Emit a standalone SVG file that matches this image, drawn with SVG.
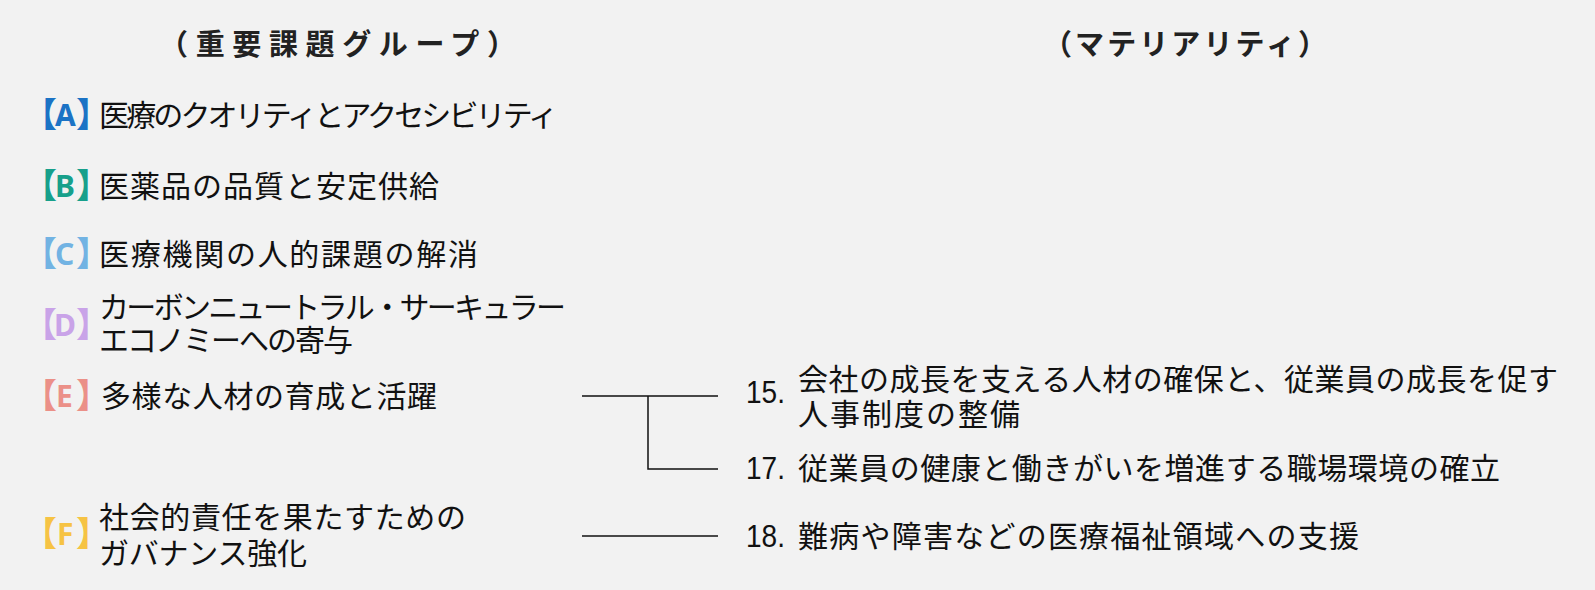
<svg xmlns="http://www.w3.org/2000/svg" width="1595" height="590" viewBox="0 0 1595 590">
<style>
.t{font-family:"Noto Sans CJK JP",sans-serif;font-size:30px;fill:#111}
.h{font-family:"Noto Sans CJK JP",sans-serif;font-size:29px;font-weight:bold;fill:#222}
.n{font-family:"Liberation Sans","Noto Sans CJK JP",sans-serif;font-size:31px;fill:#111}
.br{font-size:34px;font-weight:bold}
.lt{font-family:"Noto Sans","Liberation Sans",sans-serif;font-size:30px;font-weight:bold}
.m{fill:#111;font-size:30px;font-weight:normal}
.ln{stroke:#111;stroke-width:1.5;fill:none}
</style>
<rect width="1595" height="590" fill="#f2f2f2"/>
<g id="title-left"><text class="h" x="159" y="55" textLength="357">（重要課題グループ）</text></g>
<g id="title-right"><text class="h" x="1043" y="55" textLength="284">（マテリアリティ）</text></g>

<g id="A"><text class="t" fill="#1b73c5"><tspan class="br" fill="#1b73c5" x="23" y="127">【</tspan><tspan class="lt" fill="#1b73c5" x="55" y="126">A</tspan><tspan class="br" fill="#1b73c5" x="76" y="127">】</tspan><tspan class="m" x="99" y="126" textLength="459">医療のクオリティとアクセシビリティ</tspan></text></g>
<g id="B"><text class="t"><tspan class="br" fill="#17a08b" x="23" y="198">【</tspan><tspan class="lt" fill="#17a08b" x="55" y="197">B</tspan><tspan class="br" fill="#17a08b" x="76" y="198">】</tspan><tspan class="m" x="99" y="197" textLength="340">医薬品の品質と安定供給</tspan></text></g>
<g id="C"><text class="t"><tspan class="br" fill="#72b3e3" x="23" y="266">【</tspan><tspan class="lt" fill="#72b3e3" x="55" y="265">C</tspan><tspan class="br" fill="#72b3e3" x="76" y="266">】</tspan><tspan class="m" x="99" y="265" textLength="379">医療機関の人的課題の解消</tspan></text></g>
<g id="D"><text class="t"><tspan class="br" fill="#c9a3e8" x="23" y="337">【</tspan><tspan class="lt" fill="#c9a3e8" x="54" y="336">D</tspan><tspan class="br" fill="#c9a3e8" x="76" y="337">】</tspan><tspan class="m" x="99" y="318" textLength="467">カーボンニュートラル・サーキュラー</tspan><tspan class="m" x="99" y="351" textLength="254">エコノミーへの寄与</tspan></text></g>
<g id="E"><text class="t"><tspan class="br" fill="#eb9088" x="23" y="408">【</tspan><tspan class="lt" fill="#eb9088" x="56" y="407">E</tspan><tspan class="br" fill="#eb9088" x="76" y="408">】</tspan><tspan class="m" x="101" y="407" textLength="336">多様な人材の育成と活躍</tspan></text></g>
<g id="F"><text class="t"><tspan class="br" fill="#f6c344" x="23" y="546">【</tspan><tspan class="lt" fill="#f6c344" x="57" y="545">F</tspan><tspan class="br" fill="#f6c344" x="76" y="546">】</tspan><tspan class="m" x="99" y="528" textLength="367">社会的責任を果たすための</tspan><tspan class="m" x="99" y="564" textLength="208">ガバナンス強化</tspan></text></g>

<g id="M15">
<text class="n" x="746" y="403" textLength="39" lengthAdjust="spacingAndGlyphs">15.</text>
<text class="t" x="798" y="390" textLength="760">会社の成長を支える人材の確保と、従業員の成長を促す</text>
<text class="t" x="798" y="425" textLength="222">人事制度の整備</text></g>
<g id="M17">
<text class="n" x="746" y="479" textLength="39" lengthAdjust="spacingAndGlyphs">17.</text>
<text class="t" x="798" y="479" textLength="702">従業員の健康と働きがいを増進する職場環境の確立</text></g>
<g id="M18">
<text class="n" x="746" y="547" textLength="39" lengthAdjust="spacingAndGlyphs">18.</text>
<text class="t" x="798" y="547" textLength="561">難病や障害などの医療福祉領域への支援</text></g>

<g id="connectors">
<path class="ln" d="M582 396H718M648 396V469H718"/>
<path class="ln" d="M582 536H718"/>
</g>
</svg>
